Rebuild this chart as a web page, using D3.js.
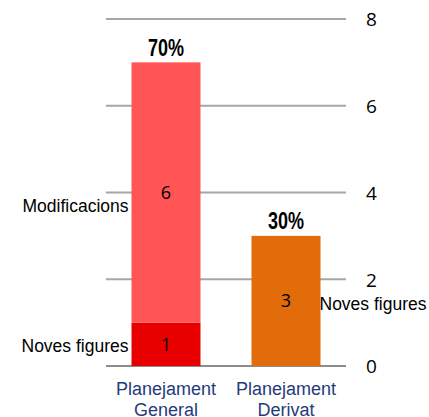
<!DOCTYPE html>
<html><head><meta charset="utf-8">
<script src="https://cdn.jsdelivr.net/npm/d3@7"></script>
<style>body{margin:0;background:#fff}svg{display:block}</style>
</head><body>
<script>
const categories = ["Planejament General", "Planejament Derivat"];
const categoryLines = [["Planejament", "General"], ["Planejament", "Derivat"]];
const novesFigures = [1, 3];
const modificacions = [6, 0];
const percentLabels = ["70%", "30%"];
const yTicks = [0, 2, 4, 6, 8];

const W = 429, H = 417;
const svg = d3.select("body").append("svg").attr("width", W).attr("height", H);

const x = d3.scaleBand().domain(categories).range([106, 346]).paddingInner(0.425).paddingOuter(0.2125);
const y = d3.scaleLinear().domain([0, 8]).range([366, 19]);

// gridlines
svg.append("g").selectAll("line").data(yTicks).join("line")
  .attr("x1", 106).attr("x2", 346)
  .attr("y1", d => y(d)).attr("y2", d => y(d))
  .attr("stroke", d => d === 0 ? "#8c8c8c" : "#a6a6a6").attr("stroke-width", 2);

// right axis labels
const yAxis = d3.axisRight(y).tickValues(yTicks).tickSize(0).tickPadding(0);
const ga = svg.append("g").attr("transform", "translate(366,0)").call(yAxis);
ga.select(".domain").remove();
ga.selectAll("text").attr("font-family", "'Open Sans', sans-serif").attr("font-size", 19)
  .attr("fill", "#000").attr("text-anchor", "start").attr("dy", "0.36em");

const colorsBottom = ["#e80000", "#e36c0a"];
const colorTop = "#ff5555";

// bottom segments
svg.append("g").selectAll("rect").data(categories).join("rect")
  .attr("x", d => x(d)).attr("width", x.bandwidth())
  .attr("y", (d, i) => y(novesFigures[i]))
  .attr("height", (d, i) => y(0) - y(novesFigures[i]))
  .attr("fill", (d, i) => colorsBottom[i]);

// top segments
svg.append("g").selectAll("rect").data(categories.filter((d, i) => modificacions[i] > 0)).join("rect")
  .attr("x", d => x(d)).attr("width", x.bandwidth())
  .attr("y", d => { const i = categories.indexOf(d); return y(novesFigures[i] + modificacions[i]); })
  .attr("height", d => { const i = categories.indexOf(d); return y(novesFigures[i]) - y(novesFigures[i] + modificacions[i]); })
  .attr("fill", colorTop);

const valFont = "'Open Sans', sans-serif";
// value labels
categories.forEach((c, i) => {
  const cx = x(c) + x.bandwidth() / 2;
  svg.append("text").attr("x", cx).attr("y", y(novesFigures[i] / 2)).attr("dy", "0.36em")
    .attr("text-anchor", "middle").attr("font-family", valFont).attr("font-size", 18).text(novesFigures[i]);
  if (modificacions[i] > 0) {
    svg.append("text").attr("x", cx).attr("y", y(novesFigures[i] + modificacions[i] / 2)).attr("dy", "0.36em")
      .attr("text-anchor", "middle").attr("font-family", valFont).attr("font-size", 18).text(modificacions[i]);
  }
  svg.append("text").attr("x", cx).attr("y", y(novesFigures[i] + modificacions[i]) - 6.5)
    .attr("text-anchor", "middle").attr("font-family", "'Liberation Sans', Arial, sans-serif")
    .attr("font-weight", "bold").attr("font-size", 23.5)
    .attr("textLength", 36).attr("lengthAdjust", "spacingAndGlyphs").text(percentLabels[i]);
  // category labels
  const t = svg.append("text").attr("x", cx).attr("y", 395).attr("text-anchor", "middle")
    .attr("font-family", "'Liberation Sans', Arial, sans-serif").attr("font-size", 18).attr("fill", "#1f3b7a");
  categoryLines[i].forEach((ln, k) => t.append("tspan").attr("x", cx).attr("dy", k === 0 ? 0 : 21).text(ln));
});

// series labels
const lf = "'Liberation Sans', Arial, sans-serif";
const g0 = categories[0], g1 = categories[1];
svg.append("text").attr("x", x(g0) - 3).attr("y", y(novesFigures[0] + modificacions[0] / 2) + 19)
  .attr("text-anchor", "end").attr("font-family", lf).attr("font-size", 17.5).text("Modificacions");
svg.append("text").attr("x", x(g0) - 3).attr("y", y(novesFigures[0] / 2) + 8)
  .attr("text-anchor", "end").attr("font-family", lf).attr("font-size", 17.5).text("Noves figures");
svg.append("text").attr("x", x(g1) + x.bandwidth() - 1).attr("y", y(novesFigures[1] / 2) + 9)
  .attr("text-anchor", "start").attr("font-family", lf).attr("font-size", 17.5).text("Noves figures");
</script>
</body></html>
